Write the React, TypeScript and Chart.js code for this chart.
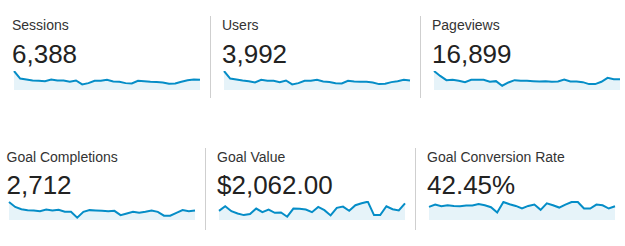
import React, { useEffect, useRef } from "react";
import { Chart, registerables } from "chart.js";

Chart.register(...registerables);

const days: string[] = Array.from({ length: 31 }, (_, i) => `Day ${i + 1}`);

const titles = ["Sessions", "Users", "Pageviews", "Goal Completions", "Goal Value", "Goal Conversion Rate"];
const totals = ["6,388", "3,992", "16,899", "2,712", "$2,062.00", "42.45%"];

const sessions = [434, 262, 239, 217, 209, 202, 239, 217, 217, 187, 217, 127, 157, 209, 209, 232, 194, 187, 157, 150, 209, 202, 187, 180, 172, 142, 150, 187, 224, 239, 232];
const users = [277, 167, 153, 139, 129, 110, 148, 134, 134, 115, 139, 81, 100, 134, 134, 148, 124, 115, 100, 96, 134, 124, 120, 120, 110, 86, 91, 115, 129, 148, 139];
const pageviews = [1109, 822, 574, 593, 535, 459, 593, 593, 593, 478, 516, 249, 440, 574, 535, 535, 516, 497, 516, 478, 497, 612, 497, 497, 459, 344, 344, 478, 707, 631, 631];
const goalCompletions = [181, 131, 108, 99, 95, 89, 105, 95, 102, 82, 82, 23, 82, 99, 95, 92, 89, 92, 49, 66, 82, 72, 82, 95, 82, 43, 43, 72, 99, 89, 95];
const goalValue = [60.9, 91.4, 58.7, 43.5, 32.6, 39.2, 76.1, 52.2, 69.6, 47.9, 50.0, 21.8, 76.1, 74.0, 69.6, 52.2, 87.0, 65.3, 30.5, 80.5, 89.2, 60.9, 97.9, 110.9, 121.8, 32.6, 32.6, 91.4, 71.8, 63.1, 110.9];
const conversionRate = [39.2, 46.1, 41.2, 44.1, 42.1, 41.2, 43.1, 43.1, 48.0, 44.1, 38.2, 22.5, 53.9, 47.0, 42.1, 34.3, 42.1, 46.1, 30.4, 50.0, 44.1, 37.2, 46.1, 53.9, 53.9, 34.3, 34.3, 46.1, 44.1, 34.3, 41.2];

const seriesList = [sessions, users, pageviews, goalCompletions, goalValue, conversionRate];
const yMaxList = [434, 277, 1109, 190.6, 126.2, 56.8];

type Layout = { textX: number; labelTop: number; numTop: number; sparkX: number; sparkTop: number };

const layouts: Layout[] = [
  { textX: 12, labelTop: 17.5, numTop: 40.5, sparkX: 14, sparkTop: 68 },
  { textX: 222, labelTop: 17.5, numTop: 40.5, sparkX: 224, sparkTop: 68 },
  { textX: 432, labelTop: 17.5, numTop: 40.5, sparkX: 434, sparkTop: 68 },
  { textX: 6.5, labelTop: 149.5, numTop: 171.5, sparkX: 9, sparkTop: 198 },
  { textX: 217, labelTop: 149.5, numTop: 171.5, sparkX: 219, sparkTop: 198 },
  { textX: 427, labelTop: 149.5, numTop: 171.5, sparkX: 429, sparkTop: 198 },
];

const separators = [
  { x: 210, top: 16, bottom: 98 },
  { x: 420, top: 16, bottom: 98 },
  { x: 205, top: 148, bottom: 230 },
  { x: 415, top: 148, bottom: 230 },
];

const SPARK_W = 186;
const SPARK_H = 19;
const PAD = { left: 3, right: 3, top: 3, bottom: 1 };

function Sparkline({ values, yMax, x, top }: { values: number[]; yMax: number; x: number; top: number }) {
  const ref = useRef<HTMLCanvasElement | null>(null);
  useEffect(() => {
    if (!ref.current) return;
    const chart = new Chart(ref.current, {
      type: "line",
      data: {
        labels: days,
        datasets: [
          {
            data: values,
            borderColor: "#058DC7",
            backgroundColor: "rgba(5,141,199,0.1)",
            borderWidth: 2,
            pointRadius: 0,
            tension: 0,
            fill: "origin",
          },
        ],
      },
      options: {
        animation: false,
        responsive: false,
        maintainAspectRatio: false,
        layout: { padding: PAD },
        plugins: { legend: { display: false }, tooltip: { enabled: false } },
        scales: {
          x: { display: false, offset: false },
          y: { display: false, min: 0, max: yMax },
        },
      },
    });
    return () => chart.destroy();
  }, [values, yMax]);
  const w = SPARK_W + PAD.left + PAD.right;
  const h = SPARK_H + PAD.top + PAD.bottom;
  return (
    <canvas
      ref={ref}
      width={w}
      height={h}
      style={{ position: "absolute", left: x - PAD.left, top: top, width: w, height: h }}
    />
  );
}

export default function App() {
  const font = '"Liberation Sans", Arial, sans-serif';
  return (
    <div
      style={{
        position: "fixed",
        left: 0,
        top: 0,
        width: 625,
        height: 246,
        background: "#fff",
        overflow: "hidden",
        fontFamily: font,
      }}
    >
      {separators.map((s, i) => (
        <div
          key={"sep" + i}
          style={{ position: "absolute", left: s.x, top: s.top, width: 1, height: s.bottom - s.top, background: "#cfcfcf" }}
        />
      ))}
      {layouts.map((l, i) => (
        <React.Fragment key={i}>
          <div
            style={{
              position: "absolute",
              left: l.textX,
              top: l.labelTop,
              fontSize: 14,
              lineHeight: "14px",
              color: "#333",
              whiteSpace: "nowrap",
            }}
          >
            {titles[i]}
          </div>
          <div
            style={{
              position: "absolute",
              left: l.textX,
              top: l.numTop,
              fontSize: 26,
              lineHeight: "26px",
              color: "#222",
              whiteSpace: "nowrap",
            }}
          >
            {totals[i]}
          </div>
          <Sparkline values={seriesList[i]} yMax={yMaxList[i]} x={l.sparkX} top={l.sparkTop} />
        </React.Fragment>
      ))}
    </div>
  );
}
